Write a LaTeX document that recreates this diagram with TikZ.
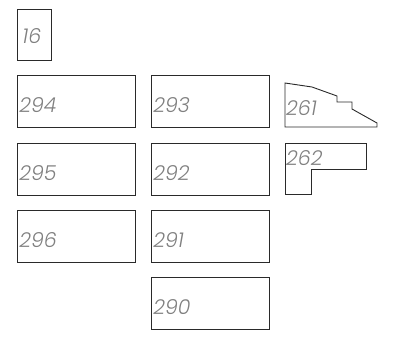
\documentclass[tikz,border=0pt]{standalone}
\usepackage{fontspec}
\setmainfont{Poppins}[ItalicFont={* Light Italic}]
\definecolor{labelgrey}{HTML}{808080}
\definecolor{edgegrey}{HTML}{2A2A2A}
\begin{document}
\begin{tikzpicture}[x=1pt,y=-1pt,
  lab/.style={font=\fontsize{20.5}{20.5}\selectfont\itshape, text=labelgrey},
  box/.style={draw=edgegrey, line width=0.9pt, rectangle, anchor=north west,
    inner xsep=2pt, inner ysep=0pt, align=left, lab,
    text height=37pt, text depth=15pt},
  widebox/.style={box, text width=114pt},
  outline/.style={draw=edgegrey, line width=0.9pt, line join=miter}]
\useasboundingbox (0,0) rectangle (393,340);
\node[box, text width=30pt, text height=34pt, text depth=17pt] (b16) at (17,9) {\hspace*{3pt}16};
\node[widebox] (b294) at (17,75) {294};
\node[widebox] (b293) at (151,75) {293};
\node[widebox] (b295) at (17,143) {295};
\node[widebox] (b292) at (151,143) {292};
\node[widebox] (b296) at (17,210) {296};
\node[widebox] (b291) at (151,210) {291};
\node[widebox] (b290) at (151,277) {290};
\draw[outline] (285,83) -- (312,87) -- (337,96) -- (337,102) -- (352,102) -- (352,109)
  -- (377,123) -- (377,127) -- (285,127) -- cycle;
\node[lab, anchor=base west, inner sep=0pt] (l261) at (286,115) {261};
\draw[outline] (285,143) -- (366,143) -- (366,169) -- (311,169) -- (311,194) -- (285,194) -- cycle;
\node[lab, anchor=base west, inner sep=0pt] (l262) at (286,165) {262};
\end{tikzpicture}
\end{document}
